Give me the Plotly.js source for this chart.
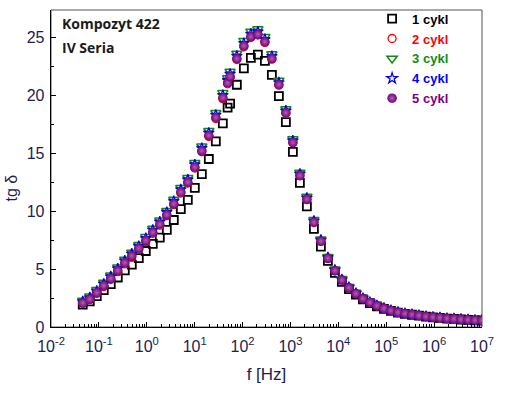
<!DOCTYPE html>
<html>
<head>
<meta charset="utf-8">
<script src="https://cdn.plot.ly/plotly-3.0.1.min.js"></script>
<style>html,body{margin:0;padding:0;background:#fff;}#chart{width:518px;height:395px;}</style>
</head>
<body>
<div id="chart"></div>
<script>
// frequency [Hz]
const freq = [0.04603, 0.06447, 0.09028, 0.1264, 0.1770, 0.2479, 0.3472, 0.4862, 0.6808, 0.9535,
  1.335, 1.870, 2.619, 3.667, 5.136, 7.192, 10.07, 14.11, 19.75, 27.67,
  38.74, 48.75, 54.95, 75.98, 106.4, 149.0, 208.7, 292.3, 409.3, 573.2,
  802.7, 1124, 1574, 2204, 3087, 4323, 6054, 8479, 11875, 16630,
  23290, 32620, 45670, 63960, 89580, 125400, 175700, 246000, 344500, 482500,
  675600, 946200, 1325000, 1856000, 2599000, 3640000, 5097000, 7138000, 10000000];

const cykl1 = [1.93, 2.21, 2.67, 3.18, 3.70, 4.28, 4.90, 5.40, 5.95, 6.57,
  7.18, 7.73, 8.40, 9.25, 10.19, 10.98, 12.03, 13.22, 14.52, 16.04,
  17.6, 18.96, 19.3, 20.94, 22.36, 23.26, 23.55, 23.0, 21.8, 19.95,
  17.7, 15.14, 12.45, 10.42, 8.49, 6.94, 5.72, 4.67, 3.90, 3.28,
  2.80, 2.38, 2.06, 1.79, 1.57, 1.39, 1.25, 1.14, 1.06, 0.98,
  0.90, 0.84, 0.79, 0.73, 0.70, 0.65, 0.62, 0.58, 0.56];
const cykl2 = [2.04, 2.36, 2.90, 3.50, 4.10, 4.78, 5.45, 6.05, 6.70, 7.38,
  8.10, 8.80, 9.62, 10.57, 11.58, 12.44, 13.74, 15.16, 16.48, 18.02,
  19.74, 21.02, 21.58, 23.12, 24.22, 25.02, 25.24, 24.6, 23.15, 20.9,
  18.48, 15.92, 13.07, 11.01, 9.03, 7.40, 5.92, 4.85, 4.04, 3.38,
  2.87, 2.44, 2.10, 1.82, 1.60, 1.41, 1.26, 1.15, 1.07, 0.98,
  0.90, 0.84, 0.79, 0.73, 0.70, 0.65, 0.62, 0.58, 0.56];
const cykl3 = [2.30, 2.65, 3.22, 3.84, 4.47, 5.16, 5.84, 6.45, 7.11, 7.79,
  8.51, 9.22, 10.05, 11.01, 12.03, 12.89, 14.20, 15.63, 16.96, 18.52,
  20.24, 21.52, 22.09, 23.64, 24.75, 25.55, 25.75, 25.08, 23.6, 21.3,
  18.84, 16.24, 13.36, 11.27, 9.26, 7.59, 6.08, 4.99, 4.16, 3.48,
  2.96, 2.52, 2.17, 1.88, 1.65, 1.45, 1.30, 1.19, 1.11, 1.02,
  0.94, 0.88, 0.83, 0.77, 0.74, 0.69, 0.66, 0.62, 0.60];
const cykl4 = [2.20, 2.54, 3.10, 3.72, 4.35, 5.04, 5.72, 6.32, 6.98, 7.66,
  8.38, 9.09, 9.92, 10.87, 11.88, 12.73, 14.03, 15.45, 16.77, 18.32,
  20.03, 21.31, 21.87, 23.42, 24.52, 25.32, 25.52, 24.86, 23.4, 21.13,
  18.68, 16.1, 13.23, 11.15, 9.16, 7.51, 6.01, 4.93, 4.10, 3.44,
  2.92, 2.49, 2.14, 1.86, 1.63, 1.44, 1.29, 1.18, 1.10, 1.01,
  0.93, 0.87, 0.82, 0.76, 0.73, 0.68, 0.65, 0.61, 0.59];
const cykl5 = [2.08, 2.41, 2.97, 3.58, 4.20, 4.88, 5.55, 6.15, 6.80, 7.47,
  8.18, 8.88, 9.70, 10.65, 11.66, 12.51, 13.81, 15.23, 16.55, 18.10,
  19.81, 21.09, 21.65, 23.2, 24.3, 25.1, 25.3, 24.65, 23.2, 20.95,
  18.52, 15.95, 13.1, 11.04, 9.06, 7.42, 5.94, 4.87, 4.06, 3.40,
  2.89, 2.46, 2.12, 1.84, 1.61, 1.42, 1.27, 1.16, 1.08, 0.99,
  0.91, 0.85, 0.80, 0.74, 0.71, 0.66, 0.63, 0.59, 0.57];

const seriesNames = ['1 cykl', '2 cykl', '3 cykl', '4 cykl', '5 cykl'];
const xTickVals = [0.01, 0.1, 1, 10, 100, 1000, 10000, 100000, 1000000, 10000000];
const xTickText = ['10<sup>-2</sup>', '10<sup>-1</sup>', '10<sup>0</sup>', '10<sup>1</sup>', '10<sup>2</sup>',
  '10<sup>3</sup>', '10<sup>4</sup>', '10<sup>5</sup>', '10<sup>6</sup>', '10<sup>7</sup>'];

const colors = ['#000000', '#ff0000', '#138a13', '#0000ff', '#800080'];
function nm(i) { return '<span style="color:' + colors[i] + '">' + seriesNames[i] + '</span>'; }

const traces = [
  {x: freq, y: cykl1, name: nm(0), mode: 'markers', type: 'scatter',
   marker: {symbol: 'square-open', size: 8, color: colors[0], line: {width: 1.8, color: colors[0]}}},
  {x: freq, y: cykl2, name: nm(1), mode: 'markers', type: 'scatter',
   marker: {symbol: 'circle-open', size: 8, color: colors[1], line: {width: 1.3, color: colors[1]}}},
  {x: freq, y: cykl3, name: nm(2), mode: 'markers', type: 'scatter',
   marker: {symbol: 'triangle-down-open', size: 9, color: colors[2], line: {width: 1.5, color: colors[2]}}},
  {x: freq, y: cykl4, name: nm(3), mode: 'markers', type: 'scatter',
   marker: {symbol: 'star-open', size: 8, color: colors[3], line: {width: 1.3, color: colors[3]}}},
  {x: freq, y: cykl5, name: nm(4), mode: 'markers', type: 'scatter',
   marker: {symbol: 'circle', size: 9.5, color: '#76007a', line: {width: 0},
            gradient: {type: 'radial', color: '#a866ae'}}}
];

const tickFont = {family: 'Liberation Sans, Arial, sans-serif', size: 16, color: '#1c1c50'};

const layout = {
  width: 518, height: 395,
  margin: {l: 51, r: 36, t: 4, b: 68, pad: 0},
  paper_bgcolor: '#ffffff', plot_bgcolor: '#ffffff',
  showlegend: true,
  legend: {x: 0.745, y: 1.02, xanchor: 'left', yanchor: 'top', bgcolor: 'rgba(0,0,0,0)',
           font: {family: 'Liberation Sans, Arial, sans-serif', size: 13, weight: 'bold', color: '#000'},
           tracegroupgap: 0},
  xaxis: {type: 'log', range: [-2, 7], tickvals: xTickVals, ticktext: xTickText,
          ticks: 'inside', ticklen: 5, tickwidth: 1, tickcolor: '#000',
          showline: true, linecolor: '#000', linewidth: 1.3, zeroline: false, showgrid: false,
          tickfont: tickFont, ticklabelstandoff: 4,
          minor: {ticks: 'inside', ticklen: 3, tickwidth: 1, tickcolor: '#000', dtick: 'D1', showgrid: false},
          title: {text: 'f [Hz]', font: {family: 'Liberation Sans, Arial, sans-serif', size: 17, color: '#1c1c50'}, standoff: 14}},
  yaxis: {range: [0, 27.4], dtick: 5, tick0: 0,
          ticks: 'inside', ticklen: 5, tickwidth: 1, tickcolor: '#000',
          showline: true, linecolor: '#000', linewidth: 1.3, zeroline: false, showgrid: false,
          tickfont: tickFont, ticklabelstandoff: 2,
          minor: {ticks: 'inside', ticklen: 3, tickwidth: 1, tickcolor: '#000', dtick: 2.5, showgrid: false}},
  shapes: [{type: 'rect', xref: 'paper', yref: 'paper', x0: 0, x1: 1, y0: 0, y1: 1,
            line: {color: '#555555', width: 1}, layer: 'below'}],
  annotations: [
    {text: 'tg δ', xref: 'paper', yref: 'paper', x: -0.0906, y: 0.44, xanchor: 'center', yanchor: 'middle',
     textangle: -90, showarrow: false, font: {family: 'Liberation Sans, Arial, sans-serif', size: 16, color: '#1c1c50'}},
    {text: '<b>Kompozyt 422</b>', xref: 'paper', yref: 'paper', x: 0.02, y: 0.957, xanchor: 'left', yanchor: 'middle',
     showarrow: false, font: {family: 'Open Sans, sans-serif', size: 14, color: '#1a1a1a'}},
    {text: '<b>IV Seria</b>', xref: 'paper', yref: 'paper', x: 0.02, y: 0.882, xanchor: 'left', yanchor: 'middle',
     showarrow: false, font: {family: 'Open Sans, sans-serif', size: 14, color: '#1a1a1a'}}
  ]
};

Plotly.newPlot('chart', traces, layout, {displayModeBar: false, staticPlot: true});
</script>
</body>
</html>
